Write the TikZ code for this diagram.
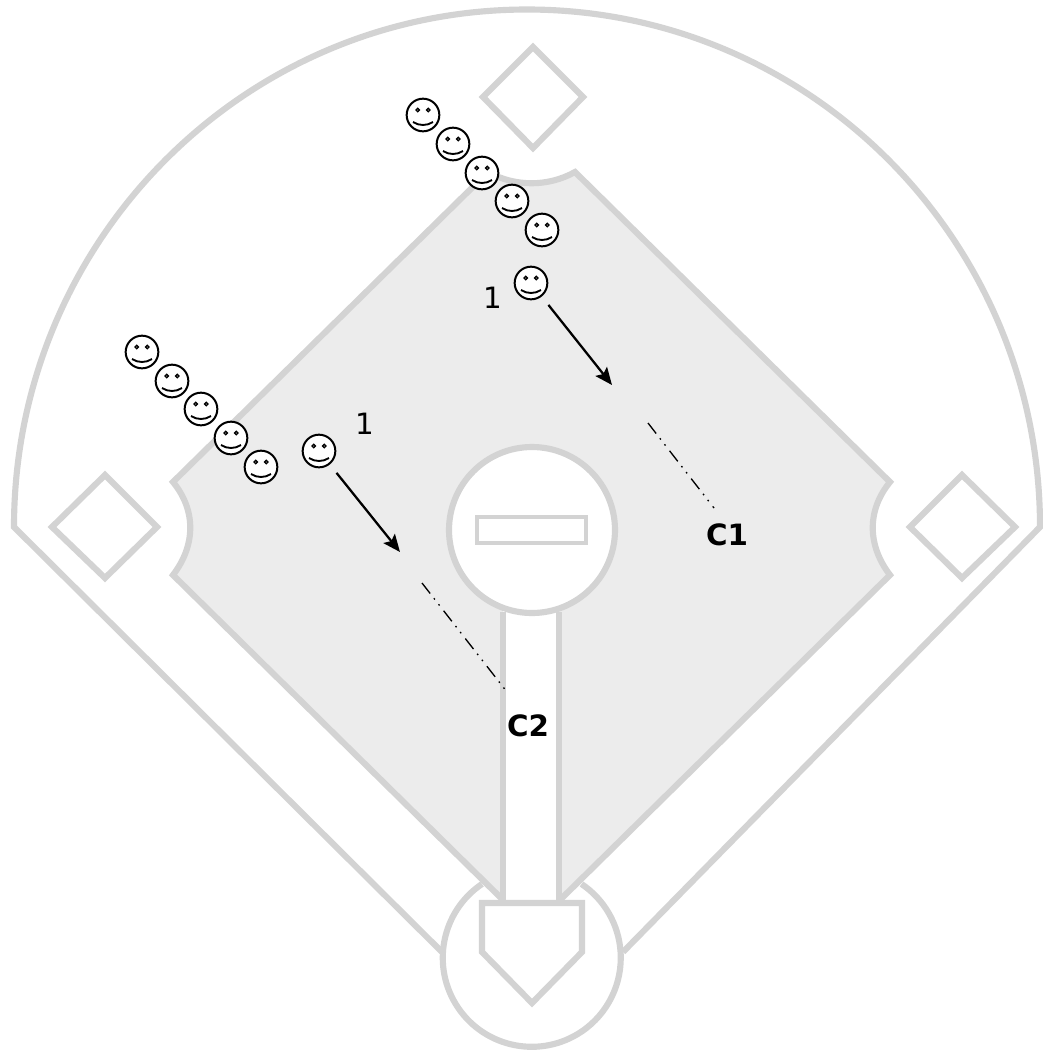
\documentclass[tikz,border=0pt]{standalone}
\usepackage{fontspec}
\newfontfamily\plainfont{DejaVu Sans}
\usetikzlibrary{arrows.meta}
\definecolor{fieldline}{HTML}{D3D3D3}
\definecolor{infield}{HTML}{ECECEC}
\tikzset{
  chalk/.style={draw=fieldline,line width=4.6pt,line join=miter},
  smiley/.style={circle,draw,line width=1.5pt,inner sep=0pt,minimum size=24.5pt,fill=white,
    path picture={
      \draw[black,fill=gray,line width=0.9pt] ([shift={(-5.3,-5)}]path picture bounding box.center) circle[radius=1.8];
      \draw[black,fill=gray,line width=0.9pt] ([shift={(5.3,-5)}]path picture bounding box.center) circle[radius=1.8];
      \draw[black,line width=1.4pt] ([shift={(-10,7)}]path picture bounding box.center)
        .. controls ([shift={(-4,11)}]path picture bounding box.center)
        and ([shift={(4,11)}]path picture bounding box.center)
        .. ([shift={(10,7)}]path picture bounding box.center);
    }},
  run/.style={-{Stealth[length=13pt,width=11pt,inset=2.5pt]},line width=1.7pt,shorten <=8pt},
  cut/.style={line width=1pt,dash pattern=on 10pt off 4.5pt on 1.2pt off 4.5pt on 1.2pt off 5pt},
  tag/.style={font=\plainfont\bfseries\fontsize{22}{22}\selectfont},
  num/.style={font=\plainfont\fontsize{22}{22}\selectfont}
}
\begin{document}
\begin{tikzpicture}[x=0.75pt,y=-0.75pt]
  \useasboundingbox (0,0) rectangle (1043,1051);
  % infield
  \draw[chalk,fill=infield] (173,482) -- (488,172)
    .. controls (515,187) and (548,187) .. (575,172) -- (890,482)
    .. controls (867,510) and (867,545) .. (890,575) -- (563,897) -- (500,897) -- (173,575)
    .. controls (196,545) and (196,510) .. cycle;
  % mound and path
  \fill[white] (503,600) rectangle (559,905);
  \draw[chalk] (503,612) -- (503,900);
  \draw[chalk] (559,612) -- (559,900);
  \draw[chalk,fill=white] (532,530) circle[radius=83];
  \draw[chalk,line width=3pt,fill=white] (477,517) rectangle (586,543);
  % outfield
  \draw[chalk] (442,952) -- (14,527) arc[start angle=180,delta angle=180,x radius=513,y radius=517.5] -- (623,952);
  % home
  \draw[chalk] (482,884) arc[start angle=236,delta angle=-292,radius=89];
  \draw[chalk,fill=white] (482,903) -- (582,903) -- (582,952) -- (532,1003) -- (482,952) -- cycle;
  % bases
  \draw[chalk] (533,47) -- (583,97) -- (533,148) -- (483,97) -- cycle;
  \draw[chalk] (105,475) -- (157,527) -- (105,578) -- (52,527) -- cycle;
  \draw[chalk] (962,475) -- (1015,527) -- (962,578) -- (910,527) -- cycle;
  % lines
  \node[smiley] (topA) at (423,115) {};
  \node[smiley] (topB) at (453,144) {};
  \node[smiley] (topC) at (482,173) {};
  \node[smiley] (topD) at (512,201) {};
  \node[smiley] (topE) at (542,230) {};
  \node[smiley] (runnerOne) at (531,283) {};
  \node[smiley] (leftA) at (142,352) {};
  \node[smiley] (leftB) at (172,381) {};
  \node[smiley] (leftC) at (201,409) {};
  \node[smiley] (leftD) at (231,438) {};
  \node[smiley] (leftE) at (261,467) {};
  \node[smiley] (runnerTwo) at (319,451) {};
  \node[num] (numOne) at (493,298) {1};
  \node[num] (numTwo) at (365,424) {1};
  \node[tag] (cOne) at (727,535) {C1};
  \node[tag] (cTwo) at (528,726) {C2};
  % runs
  \coordinate (runEndOne) at (612,385);
  \coordinate (runEndTwo) at (400,552);
  \draw[run] (runnerOne) -- (runEndOne);
  \draw[run] (runnerTwo) -- (runEndTwo);
  \coordinate (cutStartOne) at (648,423);
  \coordinate (cutStartTwo) at (422,583);
  \coordinate (cutEndOne) at (714,508);
  \coordinate (cutEndTwo) at (507,692);
  \draw[cut] (cutStartOne) -- (cutEndOne);
  \draw[cut] (cutStartTwo) -- (cutEndTwo);
\end{tikzpicture}
\end{document}
